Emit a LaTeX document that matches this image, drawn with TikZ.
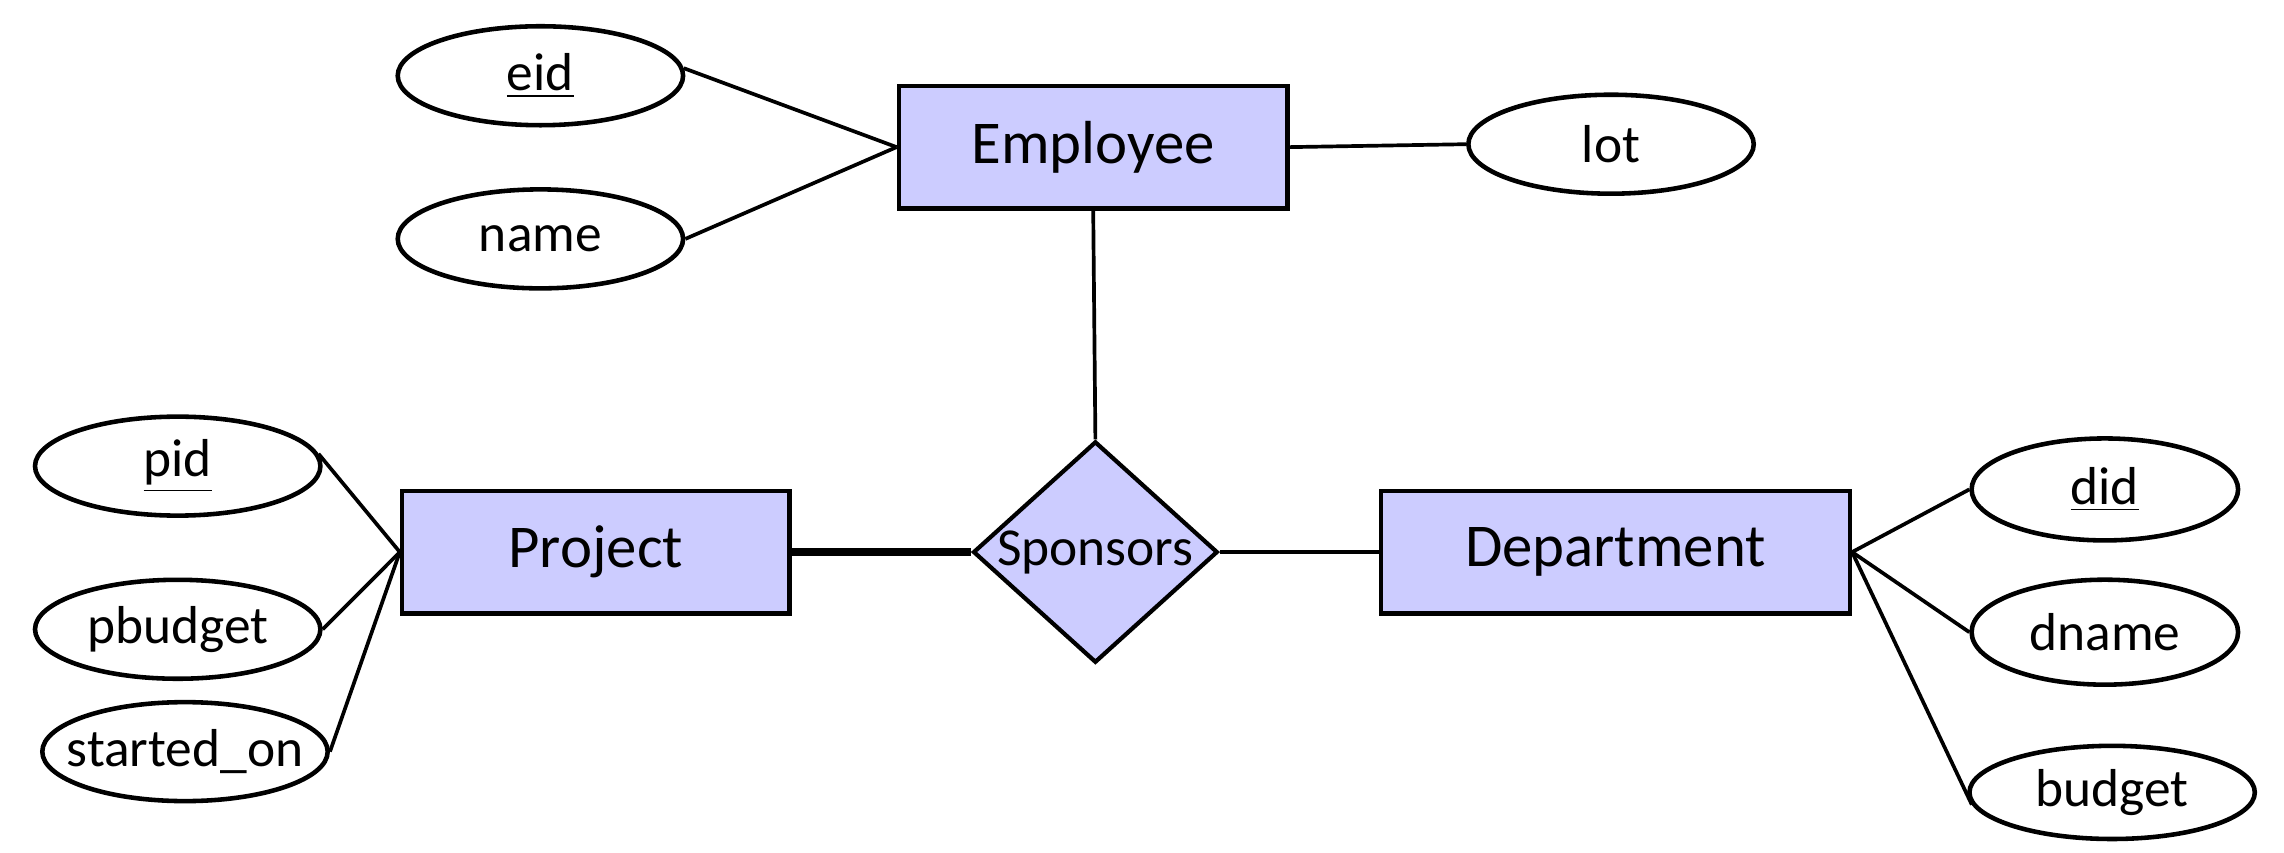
\documentclass[tikz,border=0pt]{standalone}
\usepackage{fontspec}
\setmainfont{Carlito}
\usetikzlibrary{shapes.geometric}
\definecolor{entfill}{HTML}{CCCCFF}
\newcommand{\zw}[1]{\makebox[0pt]{#1}}
\tikzset{
  entity/.style={draw, line width=1.3pt, fill=entfill, rectangle, inner sep=0pt,
    minimum height=1.224cm, font=\fontsize{17.3}{20}\selectfont},
  attr/.style={draw, line width=1.3pt, ellipse, inner sep=0pt,
    minimum width=2.855cm, minimum height=0.99cm, font=\fontsize{15.2}{18}\selectfont},
  rel/.style={draw, line width=1.2pt, fill=entfill, diamond, inner sep=0pt,
    minimum width=2.447cm, minimum height=2.214cm, font=\fontsize{15.2}{18}\selectfont},
  conn/.style={line width=1.05pt},
  total/.style={line width=2.4pt}
}
\begin{document}
\begin{tikzpicture}[x=0.0145663cm, y=-0.0145663cm]
\useasboundingbox (0,0) rectangle (1568,585);
% entities
\node[entity, minimum width=3.889cm] (emp) at (750.5,101) {Employee};
\node[entity, minimum width=3.875cm] (proj) at (409,379) {Project};
\node[entity, minimum width=4.690cm] (dept) at (1109,379) {Department};
% relationship
\node[rel] (spons) at (752,379) {\zw{Sponsors}};
% attributes
\node[attr] (eid) at (371,52) {\zw{\underline{eid}}};
\node[attr] (name) at (371,164) {\zw{name}};
\node[attr] (lot) at (1106,99) {\zw{lot}};
\node[attr] (pid) at (122,320) {\zw{\underline{pid}}};
\node[attr] (pbudget) at (122,432) {\zw{pbudget}};
\node[attr] (started) at (127,516) {\zw{started\_on}};
\node[attr, minimum width=2.666cm, minimum height=1.02cm] (did) at (1445,336) {\zw{\underline{did}}};
\node[attr, minimum width=2.666cm, minimum height=1.05cm] (dname) at (1445,434) {\zw{dname}};
\node[attr, minimum height=0.932cm] (budget) at (1450,544) {\zw{budget}};
% connectors
\draw[conn] (eid.3) -- (emp.west);
\draw[conn] (name.east) -- (emp.west);
\draw[conn] (emp.east) -- (lot.west);
\draw[conn] (emp.south) -- (spons.north);
\draw[total] (proj.east) -- (spons.west);
\draw[conn] (spons.east) -- (dept.west);
\draw[conn] (pid.5) -- (proj.west);
\draw[conn] (pbudget.east) -- (proj.west);
\draw[conn] (started.east) -- (proj.west);
\draw[conn] (dept.east) -- (did.west);
\draw[conn] (dept.east) -- (dname.west);
\draw[conn] (dept.east) -- (budget.185);
\end{tikzpicture}
\end{document}
